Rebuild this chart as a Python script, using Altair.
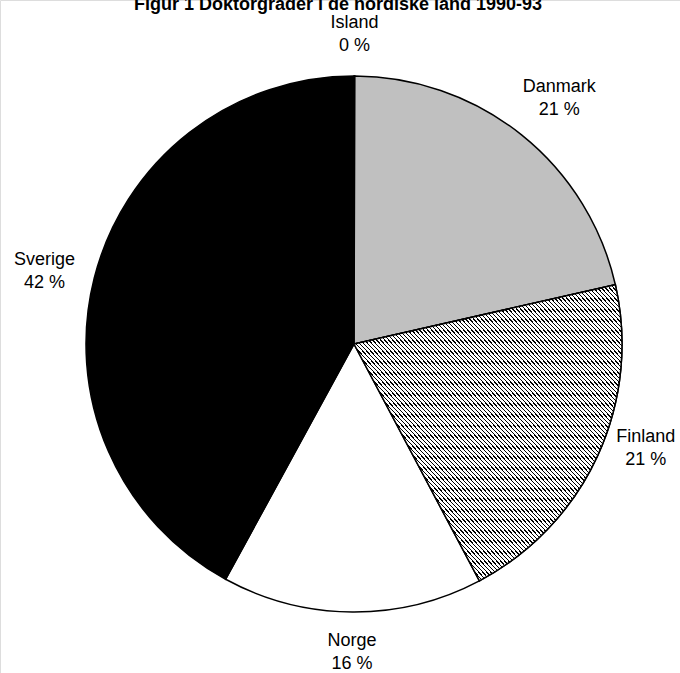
import altair as alt
import pandas as pd

lands = ["Island", "Danmark", "Finland", "Norge", "Sverige"]
shares = [0.05, 21.4, 20.8, 15.7, 42.05]
pct_labels = ["0 %", "21 %", "21 %", "16 %", "42 %"]
fills = ["#000000", "#c0c0c0", "#ffffff", "#ffffff", "#000000"]

df = pd.DataFrame({
    "Land": lands,
    "Andel": shares,
    "idx": list(range(len(lands))),
    "label": [f"{l}\n{p}" for l, p in zip(lands, pct_labels)],
})

# diagonal hatch as a striped linear gradient
N = 134
stops = []
for i in range(N):
    a = i / N
    b = (i + 0.32) / N
    c = (i + 1) / N
    stops += [
        {"offset": a, "color": "#000000"},
        {"offset": b, "color": "#000000"},
        {"offset": b, "color": "#ffffff"},
        {"offset": c, "color": "#ffffff"},
    ]
hatch = {"gradient": "linear", "x1": 0, "y1": 1, "x2": 1, "y2": 0, "stops": stops}

CX, CY, R, RL = 354, 344, 268, 309

base = alt.Chart(df).encode(
    theta=alt.Theta("Andel:Q", stack=True),
    order=alt.Order("idx:Q"),
    x=alt.value(CX),
    y=alt.value(CY),
)

pie = base.mark_arc(outerRadius=R, stroke="#000000", strokeWidth=1.5).encode(
    color=alt.Color("Land:N", scale=alt.Scale(domain=lands, range=fills), legend=None)
)

hatched = base.mark_arc(outerRadius=R, fill=hatch, stroke="#000000", strokeWidth=1.5).encode(
    opacity=alt.condition(alt.datum.Land == "Finland", alt.value(1), alt.value(0))
)

txt_props = dict(radius=RL, font="Liberation Sans", fontSize=18, lineBreak="\n",
                 lineHeight=23, align="center", baseline="middle", color="#000000")

# label nudges (label placement tweaks, like Excel's outside-end labels)
nudges = {"Danmark": (12, -16), "Finland": (11, -36), "Sverige": (-10, -8)}
special = list(nudges)

label_layers = [
    base.mark_text(dy=-12, **txt_props).encode(
        text="label:N",
        opacity=alt.condition(alt.FieldOneOfPredicate(field="Land", oneOf=special),
                              alt.value(0), alt.value(1)),
    )
]
for land, (ddx, ddy) in nudges.items():
    label_layers.append(
        base.mark_text(dx=ddx, dy=ddy, **txt_props).encode(
            text="label:N",
            opacity=alt.condition(alt.datum.Land == land, alt.value(1), alt.value(0)),
        )
    )

title = alt.Chart(pd.DataFrame({"t": ["Figur 1 Doktorgrader i de nordiske land 1990-93"]})).mark_text(
    font="Liberation Sans", fontSize=18, fontWeight="bold", align="center",
    baseline="alphabetic", color="#000000"
).encode(text="t:N", x=alt.value(338), y=alt.value(10))

chart = alt.layer(pie, hatched, *label_layers, title).properties(
    width=680, height=673,
    autosize=alt.AutoSizeParams(type="none"),
    padding=0,
).configure_view(stroke=None).configure(background="#ffffff")

chart.save("out.html", embed_options={"renderer": "svg", "actions": False})
